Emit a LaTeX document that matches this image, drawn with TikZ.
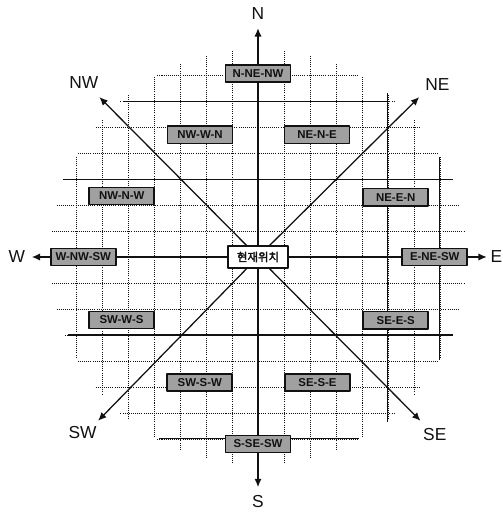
\documentclass[tikz,border=0pt]{standalone}
\usepackage{fontspec}
\setmainfont{Liberation Sans}
\newfontfamily\korfont[AutoFakeBold=2.5]{Noto Sans CJK KR}
\usepackage{tikz}
\usetikzlibrary{arrows.meta,backgrounds}
\definecolor{cpInk}{HTML}{111111}
\definecolor{cpShade}{HTML}{A0A0A0}
\tikzset{
  cp diagram/.style={font=\fontsize{19}{22}\selectfont, text=cpInk,
    line cap=round, line join=round},
  cp box/.style={draw=cpInk, fill=cpShade, line width=1.8pt,
    minimum width=2.5cm, minimum height=0.66cm, inner sep=1pt,
    font=\fontsize{12.5}{14}\selectfont\bfseries},
  cp key box/.style={cp box, fill=white, minimum width=2.3cm,
    minimum height=0.83cm, font=\fontsize{12.5}{14}\selectfont\korfont\bfseries},
  cp arrow/.style={-{Latex[length=3.2mm,width=2.8mm]}, draw=cpInk, line width=1.4pt},
  cp grid/.style={draw=cpInk, line width=1pt, line cap=butt,
    dash pattern=on 1.1pt off 1.2pt},
  cp wall/.style={draw=cpInk, line width=1.1pt},
  cp label/.style={inner sep=0pt}
}

\begin{document}
\begin{tikzpicture}[cp diagram]
\useasboundingbox (-9.923,-9.808) rectangle (9.423,9.885);
\node[cp key box] (here) at (0,0) {현재위치};
% arrow ends and direction names
\coordinate (tN) at (0,8.8);
\coordinate (tS) at (0,-8.85);
\coordinate (tW) at (-8.7,0);
\coordinate (tE) at (8.8,0);
\coordinate (tNW) at (-6.1,6.15);
\coordinate (tNE) at (6.2,6.15);
\coordinate (tSW) at (-6.15,-6.3);
\coordinate (tSE) at (6.25,-6.3);
\node[cp label] (lN) at (0,9.38) {N};
\node[cp label] (lS) at (0,-9.42) {S};
\node[cp label] (lW) at (-9.28,0) {W};
\node[cp label] (lE) at (9.17,0) {E};
\node[cp label] (lNW) at (-6.7,6.7) {NW};
\node[cp label] (lNE) at (6.9,6.62) {NE};
\node[cp label] (lSW) at (-6.75,-6.75) {SW};
\node[cp label] (lSE) at (6.8,-6.83) {SE};
% sector boxes
\node[cp box] (bN) at (0,7.06) {N-NE-NW};
\node[cp box] (bNWN) at (-2.23,4.7) {NW-W-N};
\node[cp box] (bNEN) at (2.27,4.7) {NE-N-E};
\node[cp box] (bNWW) at (-5.24,2.35) {NW-N-W};
\node[cp box] (bNEE) at (5.3,2.3) {NE-E-N};
\node[cp box] (bW) at (-6.72,0) {W-NW-SW};
\node[cp box] (bE) at (6.8,0) {E-NE-SW};
\node[cp box] (bSWW) at (-5.25,-2.42) {SW-W-S};
\node[cp box] (bSEE) at (5.3,-2.43) {SE-E-S};
\node[cp box] (bSWS) at (-2.24,-4.82) {SW-S-W};
\node[cp box] (bSES) at (2.29,-4.82) {SE-S-E};
\node[cp box] (bS) at (0,-7.19) {S-SE-SW};
\begin{scope}[on background layer]
  % dotted grid, round outline
  \foreach \k in {-7,...,-1,1,2,...,7} {
    \pgfmathsetmacro{\h}{sqrt(64-\k*\k)}
    \draw[cp grid] (-\h,\k) -- (\h,\k);
    \draw[cp grid] (\k,-\h) -- (\k,\h);
  }
  % solid lines
  \draw[cp wall] (-5.2,6) -- (5,6);
  \draw[cp wall] (-7.5,3) -- (7.5,3);
  \draw[cp wall] (-7.3,-3) -- (7.5,-3);
  \draw[cp wall] (-3.8,-7) -- (3.9,-7);
  \draw[cp wall] (5,6.3) -- (5,-6.35);
  \draw[cp wall] (7,3.85) -- (7,-3.95);
  % axes
  \draw[cp arrow] (here) -- (tN);
  \draw[cp arrow] (here) -- (tS);
  \draw[cp arrow] (here) -- (tW);
  \draw[cp arrow] (here) -- (tE);
  \draw[cp arrow] (here) -- (tNW);
  \draw[cp arrow] (here) -- (tNE);
  \draw[cp arrow] (here) -- (tSW);
  \draw[cp arrow] (here) -- (tSE);
\end{scope}
\end{tikzpicture}
\end{document}
